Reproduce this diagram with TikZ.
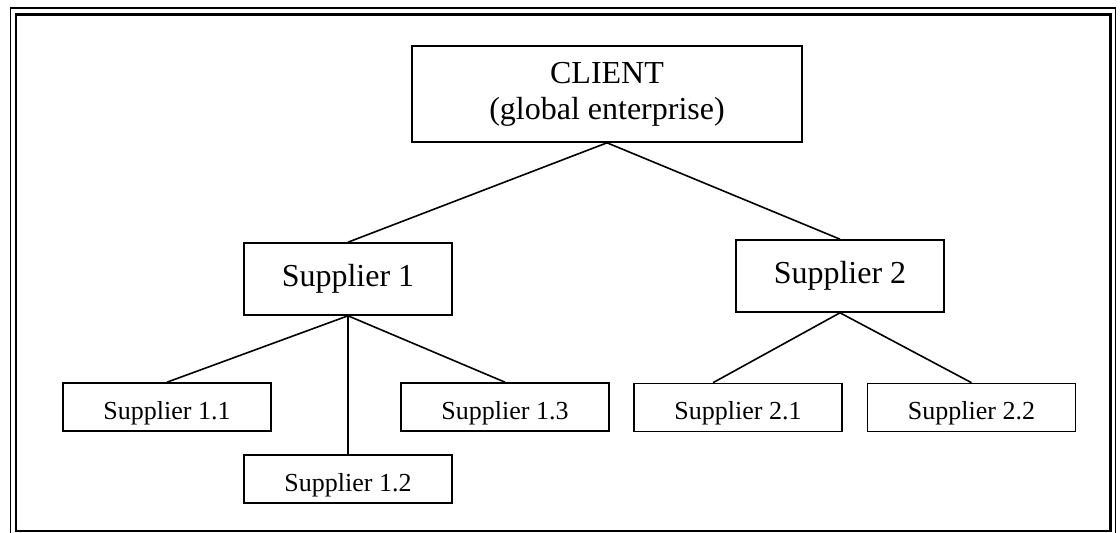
\documentclass[tikz,border=0pt]{standalone}
\usepackage{fontspec}
\setmainfont{Liberation Serif}
\begin{document}
\begin{tikzpicture}[x=1pt, y=-1pt, line width=1.6pt,
    box/.style = {draw, rectangle, inner sep=0pt, minimum width=208pt},
    big/.style = {box, minimum height=72pt, font=\fontsize{32}{36}\selectfont},
    small/.style = {box, minimum height=48pt, text height=24pt, text depth=0pt,
                    font=\fontsize{26}{30}\selectfont}]
      \useasboundingbox (0,0) rectangle (1120,533);

      % double frame
      \draw[line width=1.4pt] (10.5,8) rectangle (1115.5,540);
      \draw[line width=2.4pt] (16,14.5) rectangle (1110.5,531);

      \node[box, minimum width=390pt, minimum height=96pt, align=center,
            font=\fontsize{32}{36}\selectfont] (client) at (607,94)
            {CLIENT\\(global enterprise)};
      \node[big] (1) at (348,279) {Supplier 1};
      \node[big] (2) at (840,276) {Supplier 2};
      \node[small] (11) at (167,407) {Supplier 1.1};
      \node[small] (12) at (348,479) {Supplier 1.2};
      \node[small] (13) at (505,407) {Supplier 1.3};
      \node[small] (21) at (738,407.5) {Supplier 2.1};
      \node[small] (22) at (971.5,407.5) {Supplier 2.2};

      \path[-] (client.south) edge (1.north);
      \path[-] (client.south) edge (2.north);
      \path[-] (1.south) edge (11.north);
      \path[-] (1.south) edge (12.north);
      \path[-] (1.south) edge (13.north);
      \path[-] (2.south) edge ([xshift=-25pt]21.north);
      \path[-] (2.south) edge (22.north);
    \end{tikzpicture}
\end{document}
